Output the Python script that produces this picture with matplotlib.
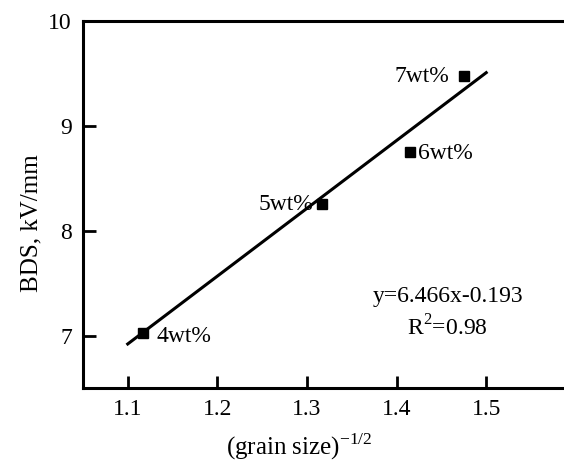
import numpy as np
import matplotlib
matplotlib.use('Agg')
import matplotlib.pyplot as plt

plt.rcParams['font.family'] = ['Liberation Serif', 'DejaVu Serif']
plt.rcParams['mathtext.fontset'] = 'custom'
plt.rcParams['mathtext.rm'] = 'Liberation Serif'

# measured points
grain = [1.117, 1.317, 1.4145, 1.475]
bds = [7.02, 8.255, 8.75, 9.47]
labels = ['4wt%', '5wt%', '6wt%', '7wt%']

# linear fit shown in the figure
slope = 6.466
intercept = -0.193
fit_x = [1.1, 1.5]

fig = plt.figure(figsize=(5.64, 4.63), dpi=100)
ax = fig.add_axes([0.147, 0.162, 0.874, 0.793])

fx = np.array(fit_x)
ax.plot(fx, slope * fx + intercept, color='black', lw=2.2)
ax.plot(grain, bds, 's', color='black', ms=7.5)

fs = 17
ax.text(1.459, 9.47, labels[3], ha='right', va='center', fontsize=fs)
ax.text(1.424, 8.74, labels[2], ha='left', va='center', fontsize=fs)
ax.text(1.307, 8.25, labels[1], ha='right', va='center', fontsize=fs)
ax.text(1.132, 6.99, labels[0], ha='left', va='center', fontsize=fs)

ax.text(1.457, 7.37, 'y=%.3fx%.3f' % (slope, intercept), ha='center', va='center', fontsize=fs)
ax.text(1.457, 7.07, r'R$^{2}$=0.98', ha='center', va='center', fontsize=fs)

ax.set_xlim(1.05, 1.6)
ax.set_ylim(6.5, 10)
ax.set_xticks([1.1, 1.2, 1.3, 1.4, 1.5])
ax.set_yticks([7, 8, 9, 10])
ax.tick_params(direction='in', length=9, width=2, labelsize=fs, pad=8)
for s in ax.spines.values():
    s.set_linewidth(2.2)

ax.set_xlabel(r'(grain size)$^{\mathregular{-1/2}}$', fontsize=18)
ax.set_ylabel('BDS, kV/mm', fontsize=18)
ax.xaxis.set_label_coords(0.44, -0.118)
ax.yaxis.set_label_coords(-0.082, 0.45)

fig.savefig('out.png', dpi=100)
